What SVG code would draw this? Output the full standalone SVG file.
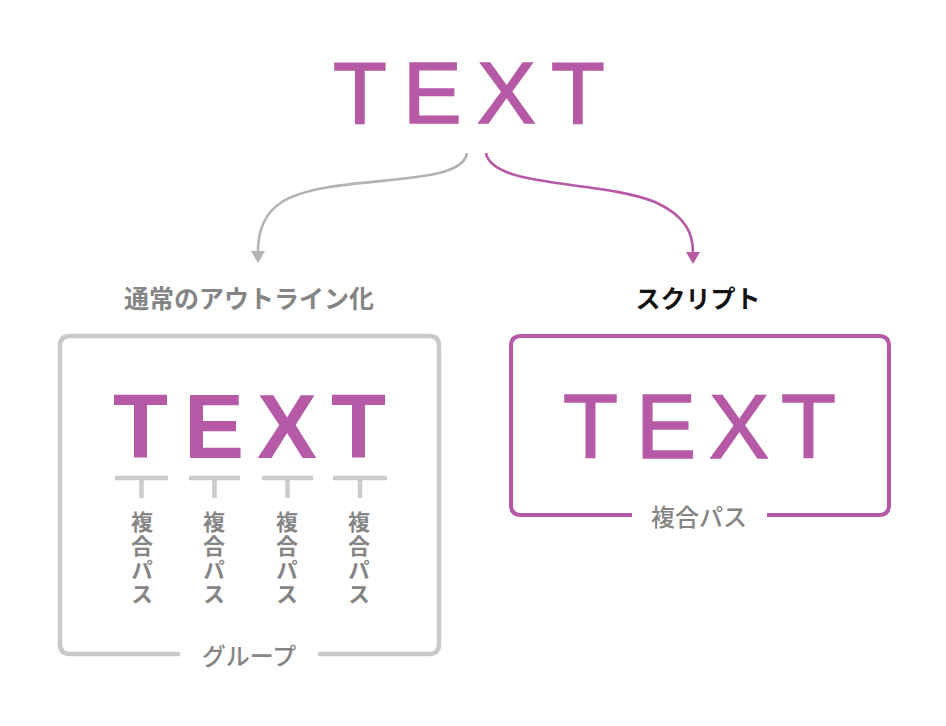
<svg xmlns="http://www.w3.org/2000/svg" width="946" height="726" viewBox="0 0 946 726">
<style>
.big{font-family:"Liberation Sans",Arial,sans-serif;font-size:88px;fill:#b65aa8;stroke:#b65aa8;stroke-width:1.6}
.bigb{font-family:"Liberation Sans",Arial,sans-serif;font-size:90px;font-weight:700;fill:#b65aa8}
.jp{font-family:"Noto Sans CJK JP","Noto Sans",sans-serif;font-size:24px;font-weight:500;fill:#858585;text-anchor:middle}
.jv{font-family:"Noto Sans CJK JP","Noto Sans",sans-serif;font-size:22px;font-weight:700;fill:#858585;writing-mode:vertical-rl;text-orientation:upright;letter-spacing:2px}
.hd{font-family:"Noto Sans CJK JP","Noto Sans",sans-serif;font-size:25px;font-weight:700;text-anchor:middle}
.gbox{fill:none;stroke:#c9c9c9;stroke-width:4.5}
.pbox{fill:none;stroke:#b65aa8;stroke-width:4}
.br{stroke:#cccccc;stroke-width:4.5;fill:none}
</style>
<rect width="946" height="726" fill="#ffffff"/>
<g id="source">
<text class="big" y="123"><tspan x="333">T</tspan><tspan x="403">E</tspan><tspan x="477">X</tspan><tspan x="551">T</tspan></text>
</g>
<g id="connectors" fill="none" stroke-width="2.6">
<path d="M467,153 C462,190 330,172 282,202 C263,214 258,232 258,251" stroke="#b3b3b3"/>
<path d="M258,251 L251,251 L258,263 L265,251 Z" fill="#b3b3b3" stroke="none"/>
<path d="M486,153 C492,188 600,180 655,202 C686,216 693,234 693,252" stroke="#b65aa8"/>
<path d="M693,252 L686,252 L693,264 L700,252 Z" fill="#b65aa8" stroke="none"/>
</g>
<g id="outline">
<text class="hd" x="249" y="308" fill="#858585">通常のアウトライン化</text>
<path class="gbox" d="M180,654 H70 Q60,654 60,644 V346 Q60,336 70,336 H429 Q439,336 439,346 V644 Q439,654 429,654 H318"/>
<text class="bigb" y="458"><tspan x="113">T</tspan><tspan x="184">E</tspan><tspan x="257">X</tspan><tspan x="331">T</tspan></text>
<g id="brackets">
<path class="br" d="M115,478 H168 M141.5,478 V498"/>
<path class="br" d="M189,478 H240 M214.5,478 V498"/>
<path class="br" d="M262,478 H313 M287.5,478 V498"/>
<path class="br" d="M333,478 H387 M360,478 V498"/>
</g>
<g id="labels-v">
<text class="jv" x="142" y="511">複合パス</text>
<text class="jv" x="214" y="511">複合パス</text>
<text class="jv" x="287" y="511">複合パス</text>
<text class="jv" x="359" y="511">複合パス</text>
</g>
<text class="jp" x="249" y="665">グループ</text>
</g>
<g id="script">
<text class="hd" x="698" y="308" fill="#111111">スクリプト</text>
<path class="pbox" d="M632,515 H521 Q511,515 511,505 V346 Q511,336 521,336 H879 Q889,336 889,346 V505 Q889,515 879,515 H767"/>
<text class="big" y="458" style="font-size:90px"><tspan x="563">T</tspan><tspan x="636">E</tspan><tspan x="709">X</tspan><tspan x="781">T</tspan></text>
<text class="jp" x="699" y="526">複合パス</text>
</g>
</svg>
